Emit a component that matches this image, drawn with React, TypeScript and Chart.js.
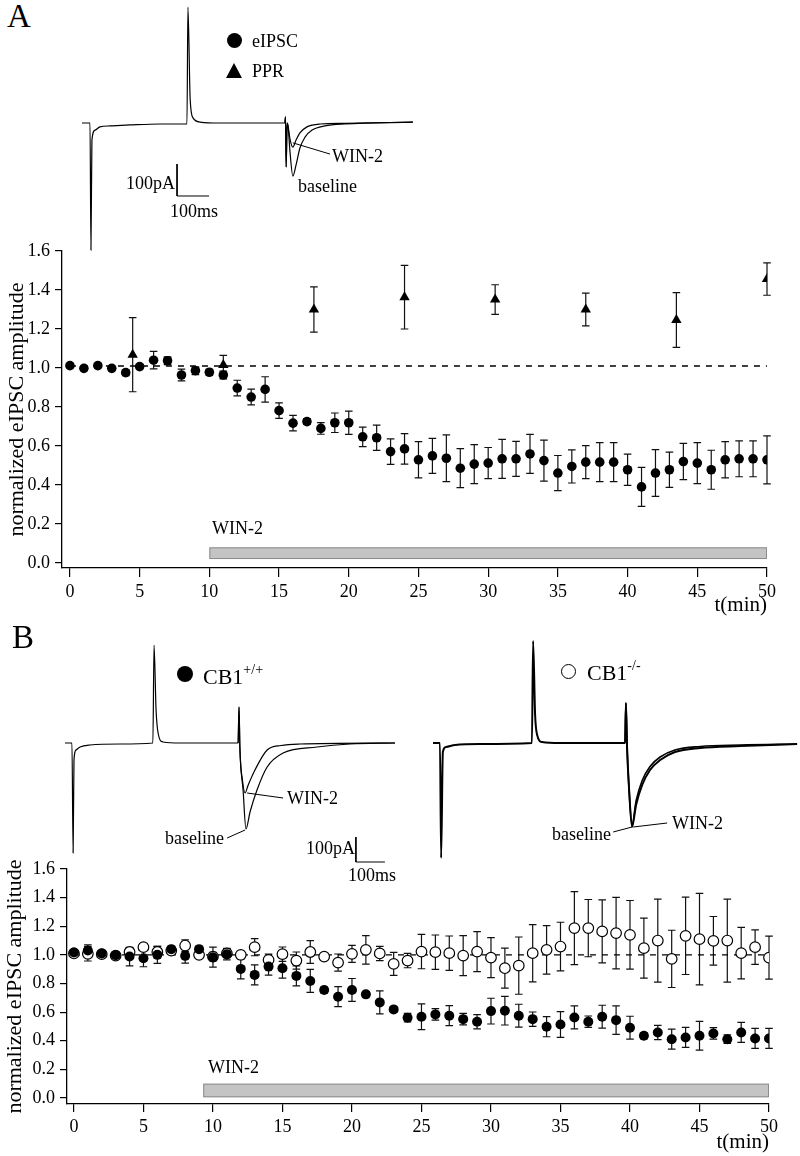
import React, { useEffect, useRef } from "react";
import { Chart, registerables } from "chart.js";
Chart.register(...registerables);

const SERIF = '"Liberation Serif", "Times New Roman", serif';
Chart.defaults.font.family = SERIF;
Chart.defaults.color = "#000";

// ---------------- Panel A data ----------------
const A_TIME = [0,1,2,3,4,5,6,7,8,9,10,11,12,13,14,15,16,17,18,19,20,21,22,23,24,25,26,27,28,29,30,31,32,33,34,35,36,37,38,39,40,41,42,43,44,45,46,47,48,49,50];
const A_EIPSC = [1.012,0.998,1.012,0.998,0.976,1.007,1.04,1.037,0.964,0.986,0.978,0.964,0.897,0.851,0.89,0.781,0.717,0.725,0.69,0.719,0.719,0.647,0.642,0.571,0.585,0.529,0.549,0.537,0.486,0.507,0.512,0.534,0.534,0.559,0.525,0.461,0.495,0.517,0.517,0.517,0.478,0.39,0.461,0.478,0.52,0.512,0.478,0.529,0.534,0.534,0.529];
const A_EIPSC_ERR = [0.01,0.01,0.01,0.01,0.015,0.01,0.045,0.02,0.03,0.02,0.015,0.02,0.04,0.04,0.065,0.04,0.04,0.015,0.03,0.05,0.06,0.05,0.065,0.065,0.078,0.093,0.09,0.12,0.1,0.1,0.08,0.1,0.09,0.1,0.105,0.09,0.085,0.085,0.1,0.1,0.08,0.1,0.12,0.09,0.093,0.105,0.1,0.093,0.092,0.092,0.123];
const A_PPR_TIME = [4.5, 11, 17.5, 24, 30.5, 37, 43.5, 50];
const A_PPR = [1.068, 1.015, 1.3, 1.363, 1.351, 1.3, 1.246, 1.456];
const A_PPR_ERR = [0.19, 0.05, 0.116, 0.163, 0.076, 0.084, 0.14, 0.083];
const A_DASH_X = [0, 50];
const A_DASH_Y = 1.01;
const A_WIN = { start: 10, end: 50, low: 0.02, high: 0.08 };
const A_Y_TICKS = [0, 0.2, 0.4, 0.6, 0.8, 1.0, 1.2, 1.4, 1.6];
const X_TICKS = [0, 5, 10, 15, 20, 25, 30, 35, 40, 45, 50];

// Panel A traces (ms, pA)
const A_BASE_MS = [0,25,28,31,41,56,88,150,244,328,331,338,347,369,431,634,636,638,641,644,650,659,669,681,697,719,759,822,1034];
const A_BASE_PA = [0,0,-397,-53,-22,-12,-9,-6,-3,-3,362,75,16,3,0,0,19,-137,0,-10,-90,-166,-131,-78,-44,-22,-9,-3,3];
const A_WIN_MS = [634,636,638,641,644,650,659,669,681,703,744,822,1034];
const A_WIN_PA = [0,19,-137,0,-10,-50,-75,-53,-31,-12,-3,-1,3];
const A_LEAD_MS = [659, 775];
const A_LEAD_PA = [-62, -97];
const A_SCALE_MS = [297, 297, 397];
const A_SCALE_PA = [-128, -228, -228];

// ---------------- Panel B data ----------------
const B_TIME = [0,1,2,3,4,5,6,7,8,9,10,11,12,13,14,15,16,17,18,19,20,21,22,23,24,25,26,27,28,29,30,31,32,33,34,35,36,37,38,39,40,41,42,43,44,45,46,47,48,49,50];
const B_WT = [1.016,1.03,1.01,0.998,0.988,0.977,1.0,1.04,0.993,1.04,0.984,1.005,0.902,0.86,0.918,0.907,0.853,0.818,0.755,0.708,0.755,0.724,0.668,0.619,0.561,0.568,0.584,0.575,0.551,0.533,0.607,0.61,0.575,0.551,0.498,0.514,0.563,0.533,0.568,0.544,0.491,0.435,0.458,0.411,0.423,0.435,0.451,0.411,0.458,0.416,0.416];
const B_WT_ERR = [0.02,0.04,0.02,0.015,0.065,0.06,0.06,0.02,0.05,0.02,0.07,0.04,0.07,0.07,0.06,0.07,0.07,0.08,0.02,0.07,0.08,0.02,0.08,0.02,0.03,0.09,0.04,0.07,0.04,0.05,0.09,0.1,0.08,0.05,0.07,0.09,0.08,0.04,0.08,0.1,0.08,0.02,0.05,0.07,0.07,0.1,0.04,0.03,0.07,0.07,0.07];
const B_KO = [1.01,1.007,1.005,0.995,1.02,1.054,1.02,1.03,1.065,1.0,0.988,1.01,1.0,1.054,0.965,1.005,0.96,1.02,0.988,0.946,1.007,1.035,1.01,0.937,0.96,1.023,1.019,1.012,0.995,1.023,0.981,0.907,0.925,1.012,1.035,1.058,1.187,1.187,1.164,1.152,1.14,1.047,1.1,0.972,1.133,1.11,1.098,1.1,1.012,1.054,0.981];
const B_KO_ERR = [0.02,0.05,0.02,0.02,0.03,0.02,0.04,0.02,0.04,0.02,0.03,0.03,0.02,0.06,0.04,0.05,0.06,0.08,0.02,0.06,0.06,0.1,0.05,0.08,0.05,0.12,0.12,0.12,0.14,0.14,0.14,0.14,0.2,0.2,0.17,0.17,0.255,0.2,0.22,0.25,0.24,0.21,0.29,0.2,0.27,0.32,0.17,0.29,0.18,0.12,0.15];
const B_DASH_X = [0, 50];
const B_DASH_Y = 1.0;
const B_WIN = { start: 9.3, end: 50, low: 0.005, high: 0.1 };

// Panel B traces, CB1+/+ (ms, pA)
const BL_BASE_MS = [0,24,28,31,38,52,86,190,303,307,314,321,338,397,597,600,603,614,624,638,662,697,752,869,983,1138];
const BL_BASE_PA = [0,0,-440,-68,-28,-16,-8,-4,0,392,132,40,4,0,0,144,-20,-188,-344,-276,-188,-96,-40,-16,-4,0];
const BL_WIN_MS = [597,600,603,612,621,631,655,697,745,810,1138];
const BL_WIN_PA = [0,144,-20,-150,-200,-170,-108,-28,-10,-4,0];
const BL_LEAD_WIN_MS = [628, 752];
const BL_LEAD_WIN_PA = [-200, -220];
const BL_LEAD_BASE_MS = [559, 621];
const BL_LEAD_BASE_PA = [-380, -348];
const B_SCALE_MS = [1003, 1003, 1103];
const B_SCALE_PA = [-376, -476, -476];

// Panel B traces, CB1-/- (ms, pA)
const BR_BASE_MS = [0,24,28,34,45,76,162,341,345,352,359,376,438,662,665,669,676,686,700,721,748,783,834,921,1059,1255];
const BR_BASE_PA = [0,0,-460,-36,-16,-8,-4,0,408,112,32,4,0,0,160,-20,-188,-336,-248,-168,-108,-68,-36,-20,-12,-4];
const BR_WIN_MS = [662,665,669,676,686,700,721,748,783,834,921,1059,1255];
const BR_WIN_PA = [0,160,-20,-190,-330,-232,-150,-94,-56,-28,-14,-8,-4];
const BR_LEAD_BASE_MS = [621, 686];
const BR_LEAD_BASE_PA = [-356, -336];
const BR_LEAD_WIN_MS = [690, 807];
const BR_LEAD_WIN_PA = [-336, -320];

// ---------------- helpers ----------------
const pts = (xs: number[], ys: number[]) => xs.map((x, i) => ({ x, y: ys[i] }));

const errorBarPlugin = {
  id: "errorBars",
  beforeDatasetsDraw(chart: any) {
    const ctx = chart.ctx;
    const xs = chart.scales.x;
    const ys = chart.scales.y;
    chart.data.datasets.forEach((ds: any) => {
      if (!ds.errors) return;
      ctx.save();
      ctx.strokeStyle = "#111";
      ctx.lineWidth = 1.2;
      const cap = 3.8;
      ds.data.forEach((p: any, j: number) => {
        const e = ds.errors[j];
        if (!e) return;
        const x = xs.getPixelForValue(p.x);
        const y1 = ys.getPixelForValue(p.y + e);
        const y2 = ys.getPixelForValue(p.y - e);
        ctx.beginPath();
        ctx.moveTo(x, y1); ctx.lineTo(x, y2);
        ctx.moveTo(x - cap, y1); ctx.lineTo(x + cap, y1);
        ctx.moveTo(x - cap, y2); ctx.lineTo(x + cap, y2);
        ctx.stroke();
      });
      ctx.restore();
    });
  },
};

const winBarPlugin = {
  id: "winBar",
  beforeDatasetsDraw(chart: any, _args: any, opts: any) {
    if (!opts || opts.start === undefined) return;
    const ctx = chart.ctx;
    const xs = chart.scales.x;
    const ys = chart.scales.y;
    const x1 = xs.getPixelForValue(opts.start);
    const x2 = xs.getPixelForValue(opts.end);
    const y1 = ys.getPixelForValue(opts.high);
    const y2 = ys.getPixelForValue(opts.low);
    ctx.save();
    ctx.fillStyle = "#c4c4c4";
    ctx.strokeStyle = "#8c8c8c";
    ctx.lineWidth = 1;
    ctx.fillRect(x1, y1, x2 - x1, y2 - y1);
    ctx.strokeRect(x1 + 0.5, y1 + 0.5, x2 - x1 - 1, y2 - y1 - 1);
    ctx.restore();
  },
};

function plotOptions(o: {
  xMin: number; yMin: number; padTop: number; padRight: number;
  yWidth: number; xHeight: number; yTickLen: number; xTickLen: number;
  titlePadTop: number; xTitlePadBottom: number; win: any;
}) {
  return {
    responsive: false,
    animation: false as const,
    devicePixelRatio: 1,
    layout: { padding: { left: 0, right: o.padRight, top: o.padTop, bottom: 0 } },
    plugins: { legend: { display: false }, tooltip: { enabled: false }, winBar: o.win },
    scales: {
      x: {
        type: "linear" as const,
        min: o.xMin,
        max: 50,
        afterBuildTicks: (s: any) => { s.ticks = X_TICKS.map((v) => ({ value: v })); },
        afterFit: (s: any) => { s.height = o.xHeight; },
        grid: { drawOnChartArea: false, drawTicks: true, tickLength: o.xTickLen, color: "#000", lineWidth: 1.2 },
        border: { display: true, color: "#000", width: 1.3 },
        ticks: { autoSkip: false, maxRotation: 0, padding: 4, color: "#000", font: { family: SERIF, size: 18 }, callback: (v: any) => String(v) },
        title: { display: true, text: "t(min)", align: "end" as const, color: "#000", font: { family: SERIF, size: 21 }, padding: { top: 0, bottom: o.xTitlePadBottom } },
      },
      y: {
        type: "linear" as const,
        min: o.yMin,
        max: 1.6,
        afterBuildTicks: (s: any) => { s.ticks = A_Y_TICKS.map((v) => ({ value: v })); },
        afterFit: (s: any) => { s.width = o.yWidth; },
        grid: { drawOnChartArea: false, drawTicks: true, tickLength: o.yTickLen, color: "#000", lineWidth: 1.2 },
        border: { display: true, color: "#000", width: 1.3 },
        ticks: { autoSkip: false, padding: 5, color: "#000", font: { family: SERIF, size: 18 }, callback: (v: any) => Number(v).toFixed(1) },
        title: { display: true, text: "normalized eIPSC amplitude", color: "#000", font: { family: SERIF, size: 22 }, padding: { top: o.titlePadTop, bottom: 0 } },
      },
    },
  };
}

function buildPlotA() {
  return {
    type: "scatter" as const,
    data: {
      datasets: [
        {
          data: pts(A_TIME, A_EIPSC), errors: A_EIPSC_ERR,
          pointStyle: "circle", pointRadius: 4.8, backgroundColor: "#000", borderColor: "#000", borderWidth: 0,
        },
        {
          data: pts(A_PPR_TIME, A_PPR), errors: A_PPR_ERR,
          pointStyle: "triangle", pointRadius: 6, backgroundColor: "#000", borderColor: "#000", borderWidth: 0,
        },
        {
          data: pts(A_DASH_X, [A_DASH_Y, A_DASH_Y]), showLine: true, pointRadius: 0,
          borderColor: "#000", borderWidth: 1.3, borderDash: [6, 6],
        },
      ],
    },
    options: plotOptions({ xMin: -0.57, yMin: -0.026, padTop: 21, padRight: 33, yWidth: 62, xHeight: 62, yTickLen: 7, xTickLen: 9, titlePadTop: 4, xTitlePadBottom: 12, win: A_WIN }),
    plugins: [winBarPlugin, errorBarPlugin],
  };
}

function buildPlotB() {
  return {
    type: "scatter" as const,
    data: {
      datasets: [
        {
          data: pts(B_TIME, B_WT), errors: B_WT_ERR,
          pointStyle: "circle", pointRadius: 5, backgroundColor: "#000", borderColor: "#000", borderWidth: 0,
        },
        {
          data: pts(B_TIME, B_KO), errors: B_KO_ERR,
          pointStyle: "circle", pointRadius: 5.3, backgroundColor: "#fff", borderColor: "#000", borderWidth: 1.2,
        },
        {
          data: pts(B_DASH_X, [B_DASH_Y, B_DASH_Y]), showLine: true, pointRadius: 0,
          borderColor: "#000", borderWidth: 1.2, borderDash: [6, 6],
        },
      ],
    },
    options: plotOptions({ xMin: -0.5, yMin: -0.042, padTop: 19, padRight: 31, yWidth: 67, xHeight: 52, yTickLen: 7, xTickLen: 8, titlePadTop: 2, xTitlePadBottom: 1, win: B_WIN }),
    plugins: [winBarPlugin, errorBarPlugin],
  };
}

function traceDs(xs: number[], ys: number[], width = 1.2, smooth = true) {
  return {
    data: pts(xs, ys),
    borderColor: "#000",
    borderWidth: width,
    pointRadius: 0,
    fill: false,
    clip: false as any,
    cubicInterpolationMode: smooth ? ("monotone" as const) : ("default" as const),
    tension: 0,
  };
}

function traceOptions(xMin: number, xMax: number, yMin: number, yMax: number) {
  return {
    responsive: false,
    animation: false as const,
    devicePixelRatio: 1,
    layout: { padding: 0 },
    plugins: { legend: { display: false }, tooltip: { enabled: false } },
    scales: {
      x: { type: "linear" as const, display: false, min: xMin, max: xMax },
      y: { type: "linear" as const, display: false, min: yMin, max: yMax },
    },
  };
}

function buildTraceA() {
  return {
    type: "line" as const,
    data: {
      datasets: [
        traceDs(A_BASE_MS, A_BASE_PA),
        traceDs(A_WIN_MS, A_WIN_PA),
        traceDs(A_LEAD_MS, A_LEAD_PA, 1, false),
        traceDs(A_SCALE_MS, A_SCALE_PA, 1, false),
      ],
    },
    options: traceOptions(-68.75, 1087.5, -428, 384.4),
  };
}

function buildTraceBL() {
  return {
    type: "line" as const,
    data: {
      datasets: [
        traceDs(BL_BASE_MS, BL_BASE_PA),
        traceDs(BL_WIN_MS, BL_WIN_PA),
        traceDs(BL_LEAD_WIN_MS, BL_LEAD_WIN_PA, 1, false),
        traceDs(BL_LEAD_BASE_MS, BL_LEAD_BASE_PA, 1, false),
        traceDs(B_SCALE_MS, B_SCALE_PA, 1, false),
      ],
    },
    options: traceOptions(-51.7, 1224, -548, 492),
  };
}

function buildTraceBR() {
  return {
    type: "line" as const,
    data: {
      datasets: [
        traceDs(BR_BASE_MS, BR_BASE_PA, 2),
        traceDs(BR_WIN_MS, BR_WIN_PA, 1.6),
        traceDs(BR_LEAD_BASE_MS, BR_LEAD_BASE_PA, 1, false),
        traceDs(BR_LEAD_WIN_MS, BR_LEAD_WIN_PA, 1, false),
      ],
    },
    options: traceOptions(-44.8, 1265, -548, 492),
  };
}

function ChartCanvas(props: { left: number; top: number; width: number; height: number; build: () => any }) {
  const ref = useRef<HTMLCanvasElement>(null);
  useEffect(() => {
    const chart = new Chart(ref.current as HTMLCanvasElement, props.build());
    return () => chart.destroy();
  }, []);
  return (
    <canvas
      ref={ref}
      width={props.width}
      height={props.height}
      style={{ position: "absolute", left: props.left, top: props.top, width: props.width, height: props.height }}
    />
  );
}

function Txt(props: { x: number; y: number; size?: number; children: React.ReactNode }) {
  return (
    <div
      style={{
        position: "absolute", left: props.x, top: props.y, transform: "translateY(-50%)",
        fontFamily: SERIF, fontSize: props.size ?? 18, lineHeight: 1, whiteSpace: "nowrap", color: "#000",
      }}
    >
      {props.children}
    </div>
  );
}

function Dot(props: { x: number; y: number; d: number; open?: boolean }) {
  return (
    <div
      style={{
        position: "absolute", left: props.x - props.d / 2, top: props.y - props.d / 2, width: props.d, height: props.d,
        borderRadius: "50%", boxSizing: "border-box",
        background: props.open ? "#fff" : "#000", border: props.open ? "1.2px solid #000" : "none",
      }}
    />
  );
}

function Tri(props: { x: number; y: number; w: number; h: number }) {
  return (
    <div
      style={{
        position: "absolute", left: props.x - props.w / 2, top: props.y - props.h / 2, width: 0, height: 0,
        borderLeft: `${props.w / 2}px solid transparent`, borderRight: `${props.w / 2}px solid transparent`,
        borderBottom: `${props.h}px solid #000`,
      }}
    />
  );
}

const sup = { fontSize: 14, position: "relative" as const, top: -10 };

export default function App() {
  return (
    <div style={{ position: "absolute", left: 0, top: 0, width: 800, height: 1156, background: "#fff", overflow: "hidden" }}>
      {/* Panel A */}
      <Txt x={7} y={16} size={33}>A</Txt>
      <ChartCanvas left={60} top={0} width={370} height={260} build={buildTraceA} />
      <Dot x={234} y={40} d={15} />
      <Txt x={252} y={41}>eIPSC</Txt>
      <Tri x={234} y={70} w={17} h={15} />
      <Txt x={252} y={71}>PPR</Txt>
      <Txt x={332} y={156}>WIN-2</Txt>
      <Txt x={298} y={186}>baseline</Txt>
      <Txt x={126} y={183}>100pA</Txt>
      <Txt x={170} y={211}>100ms</Txt>
      <ChartCanvas left={0} top={230} width={800} height={400} build={buildPlotA} />
      <Txt x={212} y={528}>WIN-2</Txt>

      {/* Panel B */}
      <Txt x={12} y={637} size={33}>B</Txt>
      <ChartCanvas left={50} top={620} width={370} height={260} build={buildTraceBL} />
      <ChartCanvas left={420} top={620} width={380} height={260} build={buildTraceBR} />
      <Dot x={185} y={674} d={16} />
      <Txt x={203} y={677} size={22}>CB1<span style={sup}>+/+</span></Txt>
      <Dot x={568} y={671} d={15} open />
      <Txt x={587} y={673} size={22}>CB1<span style={sup}>-/-</span></Txt>
      <Txt x={287} y={798}>WIN-2</Txt>
      <Txt x={165} y={838}>baseline</Txt>
      <Txt x={306} y={848}>100pA</Txt>
      <Txt x={348} y={875}>100ms</Txt>
      <Txt x={552} y={834}>baseline</Txt>
      <Txt x={672} y={823}>WIN-2</Txt>
      <ChartCanvas left={0} top={850} width={800} height={306} build={buildPlotB} />
      <Txt x={208} y={1067}>WIN-2</Txt>
    </div>
  );
}
